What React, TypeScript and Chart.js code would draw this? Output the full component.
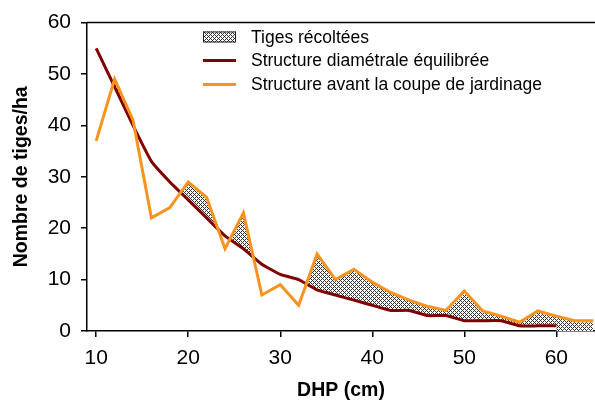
import React, { useEffect, useRef } from "react";
import { Chart, registerables } from "chart.js";

Chart.register(...registerables);

const dhp = [10, 12, 14, 16, 18, 20, 22, 24, 26, 28, 30, 32, 34, 36, 38, 40, 42, 44, 46, 48, 50, 52, 54, 56, 58, 60, 62, 64];
const avantCoupe = [37, 49, 41, 22, 24, 29, 26, 16, 23, 7, 9, 5, 15, 10, 12, 9.5, 7.5, 6, 4.8, 4, 7.8, 3.9, 2.9, 1.7, 3.9, 2.9, 2, 2];
const equilibree: (number | null)[] = [55, 47.5, 40, 33, 29, 25.5, 22, 18.5, 16, 13, 11, 10, 8, 7, 6, 5, 4, 4, 3, 3, 2, 2, 2, 1, 1, 1, null, null];
const xTicks = [10, 20, 30, 40, 50, 60];
const yTicks = [0, 10, 20, 30, 40, 50, 60];

const labels = ["Tiges récoltées", "Structure diamétrale équilibrée", "Structure avant la coupe de jardinage"];

const FONT = "'Liberation Sans', Arial, sans-serif";
const RED = "#800000";
const ORANGE = "#f7931e";

function makePattern(ctx: CanvasRenderingContext2D) {
  const c = document.createElement("canvas");
  c.width = 4;
  c.height = 4;
  const g = c.getContext("2d")!;
  g.fillStyle = "#ffffff";
  g.fillRect(0, 0, 4, 4);
  g.fillStyle = "#333333";
  for (let i = 0; i < 4; i++) {
    g.fillRect(i, i, 1, 1);
    g.fillRect(i, (4 - i) % 4, 1, 1);
  }
  return ctx.createPattern(c, "repeat")!;
}

export default function App() {
  const ref = useRef<HTMLCanvasElement>(null);

  useEffect(() => {
    const canvas = ref.current!;
    const ctx = canvas.getContext("2d")!;
    const pattern = makePattern(ctx);

    const orangePts = dhp.map((x, i) => ({ x, y: avantCoupe[i] }));
    const redPts = dhp.map((x, i) => ({ x, y: equilibree[i] }));
    const lowerPts: { x: number; y: number }[] = [];
    dhp.forEach((x, i) => {
      const v = equilibree[i];
      if (v !== null) {
        lowerPts.push({ x, y: v });
      } else {
        if (i > 0 && equilibree[i - 1] !== null) lowerPts.push({ x: dhp[i - 1], y: 0 });
        lowerPts.push({ x, y: 0 });
      }
    });

    const topBorder = {
      id: "topBorder",
      afterDraw(chart: any) {
        const { ctx: c, chartArea } = chart;
        c.save();
        c.strokeStyle = "#000";
        c.lineWidth = 1.5;
        c.beginPath();
        c.moveTo(chartArea.left, chartArea.top);
        c.lineTo(chartArea.right, chartArea.top);
        c.stroke();
        c.restore();
      },
    };

    const customLegend = {
      id: "customLegend",
      afterDraw(chart: any) {
        const c: CanvasRenderingContext2D = chart.ctx;
        const rows = [37, 60.5, 84.5];
        const x0 = 203;
        const w = 33;
        c.save();
        c.font = `17.5px ${FONT}`;
        c.textBaseline = "middle";
        c.fillStyle = pattern;
        c.fillRect(x0, rows[0] - 5.5, w, 11);
        c.strokeStyle = "#222";
        c.lineWidth = 1;
        c.strokeRect(x0 + 0.5, rows[0] - 5, w - 1, 10);
        c.lineWidth = 3;
        c.strokeStyle = RED;
        c.beginPath();
        c.moveTo(x0, rows[1]);
        c.lineTo(x0 + w, rows[1]);
        c.stroke();
        c.strokeStyle = ORANGE;
        c.beginPath();
        c.moveTo(x0, rows[2]);
        c.lineTo(x0 + w, rows[2]);
        c.stroke();
        c.fillStyle = "#000";
        labels.forEach((t, i) => c.fillText(t, 251, rows[i] + 1));
        c.restore();
      },
    };

    const chart = new Chart(canvas, {
      type: "line",
      data: {
        datasets: [
          {
            label: labels[0],
            data: orangePts,
            borderWidth: 0,
            borderColor: "rgba(0,0,0,0)",
            pointRadius: 0,
            backgroundColor: pattern as any,
            fill: { target: 1, above: pattern as any, below: "rgba(0,0,0,0)" },
            order: 3,
          },
          {
            label: "_lower",
            data: lowerPts,
            borderWidth: 0,
            borderColor: "rgba(0,0,0,0)",
            pointRadius: 0,
            fill: false,
            order: 2,
          },
          {
            label: labels[1],
            data: redPts as any,
            borderColor: RED,
            borderWidth: 3,
            pointRadius: 0,
            fill: false,
            tension: 0.15,
            spanGaps: false,
            order: 1,
          },
          {
            label: labels[2],
            data: orangePts,
            borderColor: ORANGE,
            borderWidth: 3,
            pointRadius: 0,
            fill: false,
            order: 0,
          },
        ],
      },
      options: {
        animation: false,
        responsive: false,
        devicePixelRatio: 1,
        layout: { padding: { top: 19, left: 0, right: 0, bottom: 0 } },
        plugins: {
          legend: { display: false },
          tooltip: { enabled: false },
          filler: { drawTime: "beforeDatasetsDraw", propagate: false } as any,
        },
        scales: {
          x: {
            type: "linear",
            min: 9,
            max: 64.2,
            afterBuildTicks: (s: any) => {
              s.ticks = xTicks.map((v) => ({ value: v }));
            },
            afterFit: (s: any) => {
              s.height = 71;
            },
            grid: { drawOnChartArea: false, drawTicks: true, tickLength: 6, color: "#000", tickColor: "#000", lineWidth: 1.5 },
            border: { display: true, color: "#000", width: 1.5 },
            ticks: { font: { family: FONT, size: 21 }, color: "#000", padding: 9, maxRotation: 0 },
            title: {
              display: true,
              text: "DHP (cm)",
              font: { family: FONT, size: 19.5, weight: "bold" },
              color: "#000",
              padding: { top: 0, bottom: 0 },
            },
          },
          y: {
            type: "linear",
            min: 0,
            max: 60,
            afterBuildTicks: (s: any) => {
              s.ticks = yTicks.map((v) => ({ value: v }));
            },
            afterFit: (s: any) => {
              s.width = 87;
            },
            grid: { drawOnChartArea: false, drawTicks: true, tickLength: 6, color: "#000", tickColor: "#000", lineWidth: 1.5 },
            border: { display: true, color: "#000", width: 1.5 },
            ticks: { font: { family: FONT, size: 21 }, color: "#000", padding: 10 },
            title: {
              display: true,
              text: "Nombre de tiges/ha",
              font: { family: FONT, size: 19.5, weight: "bold" },
              color: "#000",
              padding: { top: 10, bottom: 0 },
            },
          },
        },
      },
      plugins: [topBorder, customLegend],
    });

    return () => chart.destroy();
  }, []);

  return (
    <div style={{ position: "absolute", left: 0, top: 0, width: 595, height: 402 }}>
      <canvas ref={ref} width={595} height={402} style={{ display: "block" }} />
    </div>
  );
}
